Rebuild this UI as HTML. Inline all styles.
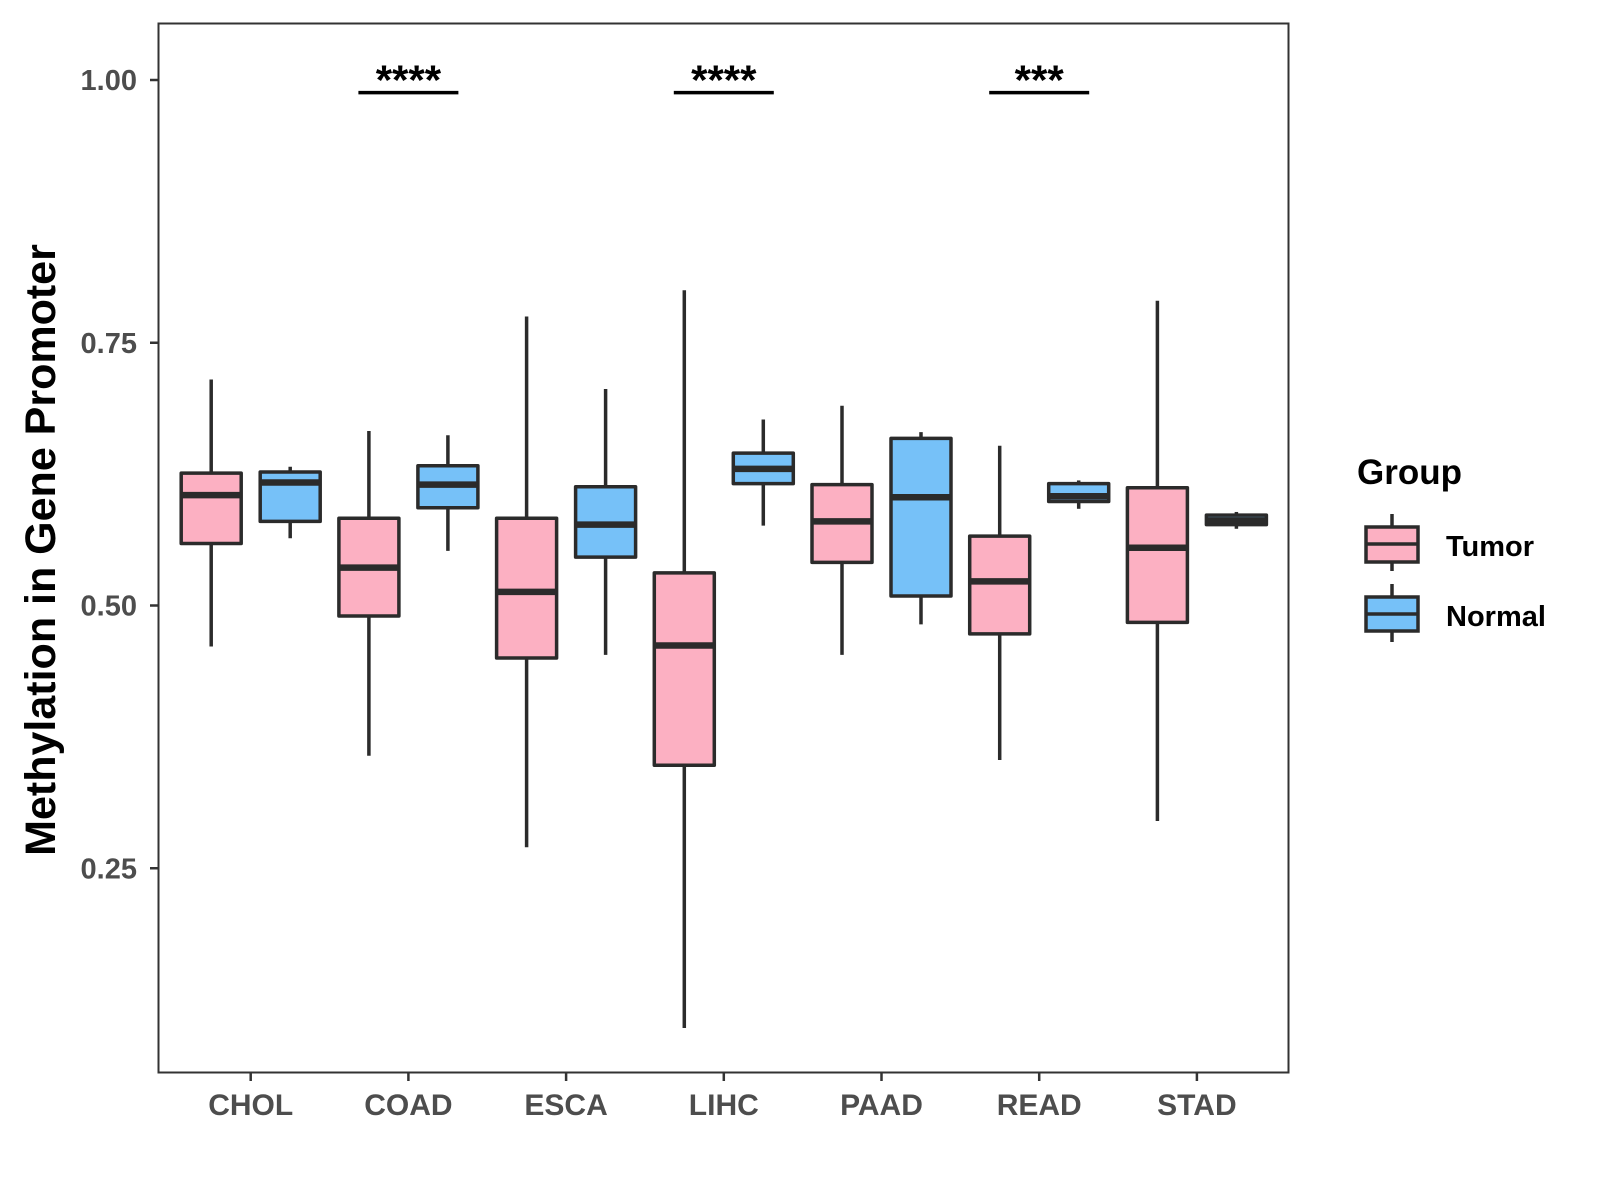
<!DOCTYPE html>
<html><head><meta charset="utf-8"><style>
html,body{margin:0;padding:0;background:#fff;}
svg{display:block;font-family:"Liberation Sans",Arial,sans-serif;}
</style></head><body>
<svg id="chart" width="1600" height="1200" viewBox="0 0 1600 1200">
<rect x="158.5" y="23.5" width="1130" height="1049" fill="none" stroke="#333" stroke-width="2"/>
<g id="marks"></g>
<text transform="translate(55,550) rotate(-90)" text-anchor="middle" font-size="43" font-weight="bold" fill="#000">Methylation in Gene Promoter</text>
<g>
<text x="1357" y="484" font-size="35" font-weight="bold" fill="#000">Group</text>
<g>
<line x1="1392" y1="514" x2="1392" y2="571" stroke="#2b2b2b" stroke-width="3.5"/>
<rect x="1366" y="527" width="52" height="35" fill="#FCB0C2" stroke="#2b2b2b" stroke-width="3.5"/>
<line x1="1366" y1="544" x2="1418" y2="544" stroke="#2b2b2b" stroke-width="3.5"/>
<text x="1446" y="556" font-size="29" font-weight="bold" fill="#000">Tumor</text>
</g>
<g>
<line x1="1392" y1="584" x2="1392" y2="642" stroke="#2b2b2b" stroke-width="3.5"/>
<rect x="1366" y="597" width="52" height="34" fill="#76C1F8" stroke="#2b2b2b" stroke-width="3.5"/>
<line x1="1366" y1="614" x2="1418" y2="614" stroke="#2b2b2b" stroke-width="3.5"/>
<text x="1446" y="626" font-size="29" font-weight="bold" fill="#000">Normal</text>
</g>
</g>
</svg>
<script>
const categories = ["CHOL","COAD","ESCA","LIHC","PAAD","READ","STAD"];
const tumorLow = [0.461,0.357,0.270,0.098,0.453,0.353,0.295];
const tumorQ1  = [0.559,0.490,0.450,0.348,0.541,0.473,0.484];
const tumorMed = [0.605,0.536,0.513,0.462,0.580,0.523,0.555];
const tumorQ3  = [0.626,0.583,0.583,0.531,0.615,0.566,0.612];
const tumorHigh= [0.715,0.666,0.775,0.800,0.690,0.652,0.790];
const normalLow = [0.564,0.552,0.453,0.576,0.482,0.592,0.573];
const normalQ1  = [0.580,0.593,0.546,0.616,0.509,0.599,0.577];
const normalMed = [0.617,0.615,0.577,0.630,0.603,0.604,0.581];
const normalQ3  = [0.627,0.633,0.613,0.645,0.659,0.616,0.586];
const normalHigh= [0.632,0.662,0.706,0.677,0.665,0.619,0.589];
const yTicks = [0.25,0.50,0.75,1.00];
const yTickLabels = ["0.25","0.50","0.75","1.00"];
const sigCategories = ["COAD","LIHC","READ"];
const sigLabels = ["****","****","***"];
const sigLevel = 0.988;

const NS="http://www.w3.org/2000/svg";
const g=document.getElementById('marks');
function y(v){return 80+(1-v)*1051;}
function x(i){return 250.7+i*157.7;}
function mk(tag,attrs,parent){const e=document.createElementNS(NS,tag);for(const k in attrs)e.setAttribute(k,attrs[k]);(parent||g).appendChild(e);return e;}
const stroke="#2b2b2b";
yTicks.forEach((t,i)=>{
  const tk=mk('line',{x1:150,x2:158,y1:y(t),y2:y(t),stroke:'#333','stroke-width':2.5});
  
  
  const tx=mk('text',{x:137,y:y(t)+10,'text-anchor':'end','font-size':29,'font-weight':'bold',fill:'#4d4d4d'});
  tx.textContent=yTickLabels[i];
  
  
});
categories.forEach((c,i)=>{
  const tk=mk('line',{x1:x(i),x2:x(i),y1:1072,y2:1081,stroke:'#333','stroke-width':2.5});
  
  
  const tx=mk('text',{x:x(i),y:1115,'text-anchor':'middle','font-size':30,'font-weight':'bold',fill:'#4d4d4d'});
  tx.textContent=c;
  
  
});
function box(cx,lo,q1,md,q3,hi,fill,name){
  const bg=mk('g',{});
  
  
  const w=60;
  mk('line',{x1:cx,x2:cx,y1:y(hi),y2:y(lo),stroke:stroke,'stroke-width':3.5},bg);
  mk('rect',{x:cx-w/2,y:y(q3),width:w,height:Math.max(1,y(q1)-y(q3)),fill:fill,stroke:stroke,'stroke-width':3.5,'stroke-linejoin':'round'},bg);
  mk('line',{x1:cx-w/2,x2:cx+w/2,y1:y(md),y2:y(md),stroke:stroke,'stroke-width':6.5},bg);
}
categories.forEach((c,i)=>{
  box(x(i)-39.5,tumorLow[i],tumorQ1[i],tumorMed[i],tumorQ3[i],tumorHigh[i],'#FCB0C2','box-tumor-'+c.toLowerCase());
  box(x(i)+39.5,normalLow[i],normalQ1[i],normalMed[i],normalQ3[i],normalHigh[i],'#76C1F8','box-normal-'+c.toLowerCase());
});
sigCategories.forEach((c,k)=>{
  const i=categories.indexOf(c);
  const ln=mk('line',{x1:x(i)-50,x2:x(i)+50,y1:y(sigLevel),y2:y(sigLevel),stroke:'#000','stroke-width':3.5});
  
  
  const tx=mk('text',{x:x(i),y:y(sigLevel)+2,'text-anchor':'middle','font-size':42,'font-weight':'bold',fill:'#000'});
  tx.textContent=sigLabels[k];
  
  
});
</script>
</body></html>
